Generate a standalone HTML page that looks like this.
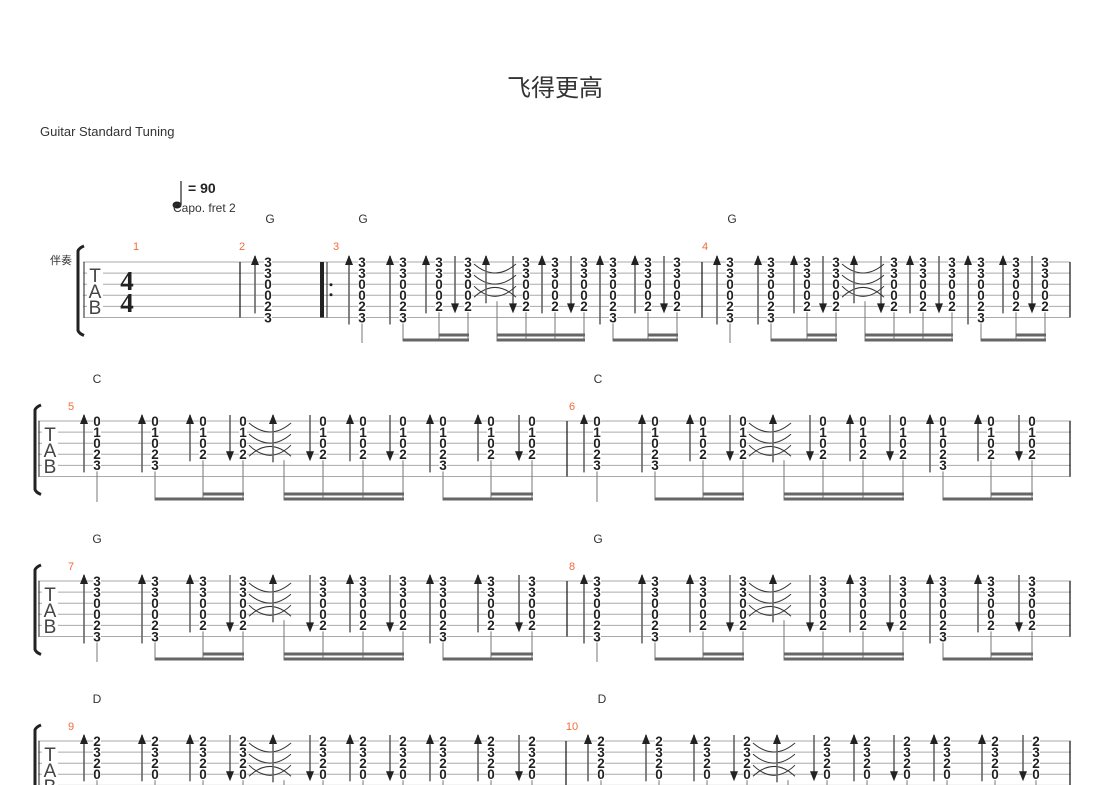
<!DOCTYPE html>
<html><head><meta charset="utf-8"><style>
body{margin:0;background:#fff;}
svg{display:block;font-family:"Liberation Sans","Noto Sans CJK SC",sans-serif;}
</style></head><body>
<svg id="s" width="1110" height="785" viewBox="0 0 1110 785" xmlns="http://www.w3.org/2000/svg">
<rect width="1110" height="785" fill="#fff"/>
<text x="555" y="96" text-anchor="middle" font-size="24" fill="#333" font-family="Liberation Sans,Noto Sans CJK SC,sans-serif">飞得更高</text>
<text x="40" y="136" font-size="13" fill="#333">Guitar Standard Tuning</text>
<line x1="181" y1="181" x2="181" y2="205" stroke="#222" stroke-width="1.2"/>
<ellipse cx="177" cy="205" rx="4.5" ry="3.5" fill="#222"/>
<text x="188" y="193" font-size="14" font-weight="bold" fill="#222">= 90</text>
<text x="173" y="212" font-size="12" fill="#333">Capo. fret 2</text>
<text x="50" y="264" font-size="11" fill="#333" font-family="Noto Sans CJK SC,sans-serif">伴奏</text>
<g id="g"></g>
</svg>
<script>
var NS="http://www.w3.org/2000/svg",G=document.getElementById('g');
function el(t,a,txt){var e=document.createElementNS(NS,t);for(var k in a)e.setAttribute(k,a[k]);if(txt!=null)e.textContent=txt;G.appendChild(e);return e;}
var S=11.1;
var CH={G:[[3,3,0,0,2,3],[3,3,0,0,2]],C:[[0,1,0,2,3],[0,1,0,2]],D:[[2,3,2,0],[2,3,2,0]]};
function staff(top,x1,x2){for(var i=0;i<6;i++)el('line',{x1:x1,x2:x2,y1:top+i*S,y2:top+i*S,stroke:'#aaa','stroke-width':1});}
function bracket(x,top){var y1=top-14,y2=top+5*S+16;el('path',{d:'M'+(x+6)+' '+(y1-2)+' Q'+(x+1)+' '+y1+' '+x+' '+(y1+3)+' L'+x+' '+(y2-3)+' Q'+(x+1)+' '+y2+' '+(x+6)+' '+(y2+2),stroke:'#222','stroke-width':3,fill:'none'});}
function tab(x,top){el('rect',{x:x-8,y:top+3,width:16,height:5*S-6,fill:'#fff'});
 [['T',20],['A',36],['B',52]].forEach(function(c){el('text',{x:x,y:top+c[1],'font-size':19,fill:'#444','text-anchor':'middle'},c[0]);});}
function bar(x,top,w){el('line',{x1:x,x2:x,y1:top,y2:top+5*S,stroke:'#222','stroke-width':w||1.3});}
function chord(x,top,fr){fr.forEach(function(f,i){var y=top+i*S;el('rect',{x:x-4,y:y-5,width:8,height:10,fill:'#fff'});el('text',{x:x,y:y+4.8,'font-size':13.5,'font-weight':'bold','text-anchor':'middle',fill:'#222'},f);});}
function arrow(x,top,bot,up){var c='#666';el('line',{x1:x,x2:x,y1:top-6,y2:bot,stroke:c,'stroke-width':1.6});
 if(up)el('path',{d:'M'+(x-4)+' '+(top+3)+' L'+x+' '+(top-7)+' L'+(x+4)+' '+(top+3)+'Z',fill:'#222'});
 else el('path',{d:'M'+(x-4)+' '+(bot-6)+' L'+x+' '+(bot+4)+' L'+(x+4)+' '+(bot-6)+'Z',fill:'#222'});}
function stem(x,y1,y2){el('line',{x1:x,x2:x,y1:y1,y2:y2,stroke:'#777','stroke-width':1});}
function beam(x1,x2,y){el('rect',{x:x1,y:y-1.5,width:x2-x1+1,height:3,fill:'#666'});}
var UP=[1,1,1,0,0,1,0,1,1,0],FULL=[1,1,0,0,0,0,0,1,0,0];
function measure(x0,top,name,off,cr,cs){
 var ch=CH[name],xs=off.map(function(o){return x0+o;}),by=top+78;
 for(var i=0;i<10;i++){var fr=FULL[i]?ch[0]:ch[1],n=fr.length,ly=top+(n-1)*S;
  arrow(xs[i]-13,top,ly+(UP[i]?7:3),UP[i]);chord(xs[i],top,fr);
  stem(xs[i],ly+6,by+(i==0?3:1.5));}
 var a=xs[3]+6,b=xs[3]+48,m=(a+b)/2,y1=top,c='#333';
 function q(d){el('path',{d:d,stroke:c,fill:'none','stroke-width':1});}
 q('M'+a+' '+(y1+2)+' Q'+m+' '+(y1+S*1.8)+' '+b+' '+(y1+2));
 q('M'+a+' '+(y1+S+2)+' Q'+m+' '+(y1+S*2.8)+' '+b+' '+(y1+S+2));
 q('M'+a+' '+(y1+2*S+2)+' Q'+m+' '+(y1+S*4)+' '+b+' '+(y1+2*S+2));
 q('M'+a+' '+(y1+3*S+2)+' Q'+m+' '+(y1+S*1.4)+' '+b+' '+(y1+3*S+2));
 arrow(x0+cr,top,top+3*S+8,1);
 stem(x0+cs,top+3*S+6,by+1.5);
 beam(xs[1],xs[3],by);beam(xs[2],xs[3],by-5);
 beam(x0+cs,xs[6],by);beam(x0+cs,xs[6],by-5);
 beam(xs[7],xs[9],by);beam(xs[8],xs[9],by-5);
}
function label(x,y,t,col){el('text',{x:x,y:y,'font-size':col?11:12,fill:col||'#333','text-anchor':'middle'},t);}
var OR='#f26b3a';
var t1=262;staff(t1,83,1070);bracket(78,t1);bar(84,t1,1);tab(95,t1);
el('text',{x:127,y:t1+28,'font-size':27,'font-weight':'bold','text-anchor':'middle',fill:'#222','font-family':'Liberation Serif,serif'},'4');
el('text',{x:127,y:t1+50,'font-size':27,'font-weight':'bold','text-anchor':'middle',fill:'#222','font-family':'Liberation Serif,serif'},'4');
bar(240,t1);el('rect',{x:320,y:t1,width:4,height:5*S,fill:'#222'});bar(327,t1,1);
el('circle',{cx:331,cy:t1+2.5*S-5,r:1.5,fill:'#222'});el('circle',{cx:331,cy:t1+2.5*S+5,r:1.5,fill:'#222'});
bar(702,t1);bar(1070,t1);
arrow(255,t1,t1+4*S+7,1);chord(268,t1,CH.G[0]);
var O1=[35,76,112,141,199,228,257,286,321,350];
measure(327,t1,'G',O1,159,170);measure(695,t1,'G',O1,159,170);
label(136,250,'1',OR);label(242,250,'2',OR);label(336,250,'3',OR);label(705,250,'4',OR);
label(270,223,'G');label(363,223,'G');label(732,223,'G');
var O2=[30,88,136,176,256,296,336,376,424,465];
var sys=[[421,'C','C',5],[581,'G','G',7],[741,'D','D',9]];
sys.forEach(function(s){var t=s[0];staff(t,38,1071);bracket(35,t);bar(39,t,1);tab(50,t);
 var b2=s[3]==9?566:567;bar(b2,t);bar(1070,t);
 measure(67,t,s[1],O2,206,217);measure(b2+(s[3]==9?5:0),t,s[2],O2,206,217);
 label(71,t-11,String(s[3]),OR);label(572,t-11,String(s[3]+1),OR);
 label(97,t-38,s[1]);label(s[3]==9?602:598,t-38,s[2]);});
</script>
</body></html>
